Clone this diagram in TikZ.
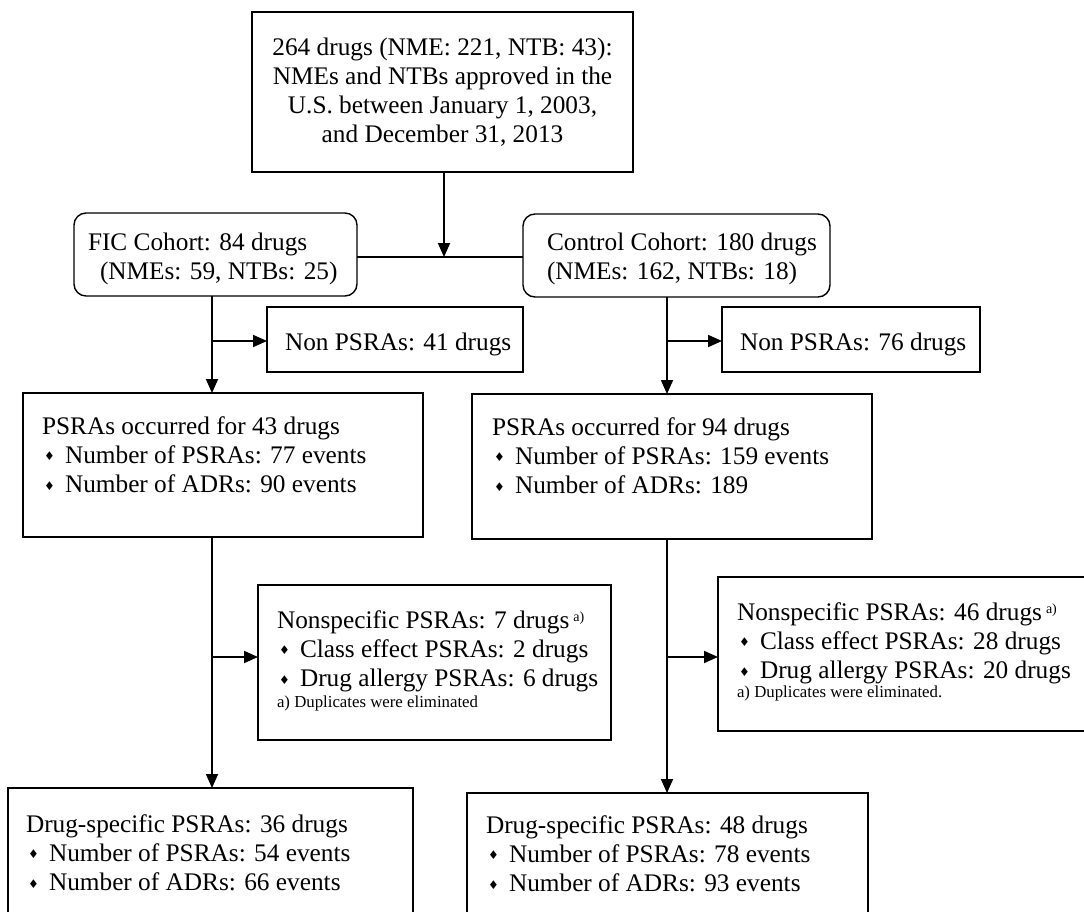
\documentclass[tikz,border=0pt]{standalone}
\usepackage{fontspec}
\setmainfont{Liberation Serif}
\newfontfamily\symfont{DejaVu Sans}
\usetikzlibrary{arrows.meta}
\newcommand\bul{\makebox[23pt][l]{\hspace{2pt}\raisebox{2.5pt}{\fontsize{12}{12}\symfont ♦}}}
\newcommand\supa{\hspace{4pt}\raisebox{7pt}{\fontsize{14}{14}\selectfont a)}}
\begin{document}
\begin{tikzpicture}[x=1pt,y=-1pt,
  box/.style={draw, line width=1.4pt, inner sep=0pt, outer sep=0pt},
  rbox/.style={box, rounded corners=12pt},
  txt/.style={inner sep=0pt, outer sep=0pt, font=\fontsize{25.3}{29.3}\selectfont},
  note/.style={inner sep=0pt, outer sep=0pt, font=\fontsize{16.8}{18}\selectfont},
  conn/.style={line width=1.8pt},
  arr/.style={conn, -{Triangle[length=14pt,width=12pt]}}]
\useasboundingbox (0,0) rectangle (1084,911);
\clip (0,0) rectangle (1084,911);
\fill[white] (0,0) rectangle (1084,911);

% top box
\node[box, minimum width=381pt, minimum height=160pt] (top) at (442.5,92) {};
\node[txt, anchor=base] (toptxt) at (442.5,55) {\begin{tabular}[t]{@{}c@{}}264 drugs (NME: 221, NTB: 43):\\ NMEs and NTBs approved in the\\ U.S. between January 1, 2003,\\ and December 31, 2013\end{tabular}};

% cohorts
\node[rbox, minimum width=283pt, minimum height=83pt] (fic) at (215.5,254.5) {};
\node[txt, anchor=base west] (fictxt) at (88,250) {\begin{tabular}[t]{@{}l@{}}FIC Cohort: 84 drugs\\ \hspace*{12pt}(NMEs: 59, NTBs: 25)\end{tabular}};
\node[rbox, minimum width=307pt, minimum height=83pt] (ctl) at (676.5,255.5) {};
\node[txt, anchor=base west] (ctltxt) at (547,250) {\begin{tabular}[t]{@{}l@{}}Control Cohort: 180 drugs\\ (NMEs: 162, NTBs: 18)\end{tabular}};

\coordinate (j) at (444,257);
\draw[arr] (top.south -| j) -- (j);
\draw[conn] (fic.east |- j) -- (ctl.west |- j);

\coordinate (cl) at (212,341);
\coordinate (cr) at (667,341);
\coordinate (bl) at (212,657);
\coordinate (br) at (667,657);

% non PSRAs
\node[box, minimum width=256pt, minimum height=65pt] (nonl) at (395,339.5) {};
\node[txt, anchor=base west] (nonltxt) at (285,350) {Non PSRAs: 41 drugs};
\node[box, minimum width=258pt, minimum height=65pt] (nonr) at (851,339.5) {};
\node[txt, anchor=base west] (nonrtxt) at (740,350) {Non PSRAs: 76 drugs};

% PSRAs occurred
\node[box, minimum width=400pt, minimum height=144pt] (psl) at (223,465) {};
\node[txt, anchor=base west] (psltxt) at (42,434) {\begin{tabular}[t]{@{}l@{}}PSRAs occurred for 43 drugs\\ \bul Number of PSRAs: 77 events\\ \bul Number of ADRs: 90 events\end{tabular}};
\node[box, minimum width=400pt, minimum height=145pt] (psr) at (672,466.5) {};
\node[txt, anchor=base west] (psrtxt) at (492,435) {\begin{tabular}[t]{@{}l@{}}PSRAs occurred for 94 drugs\\ \bul Number of PSRAs: 159 events\\ \bul Number of ADRs: 189\end{tabular}};

\draw[arr] (fic.south -| cl) -- (psl.north -| cl);
\draw[arr] (cl) -- (nonl.west |- cl);
\draw[arr] (ctl.south -| cr) -- (psr.north -| cr);
\draw[arr] (cr) -- (nonr.west |- cr);

% nonspecific
\node[box, minimum width=353pt, minimum height=155pt] (nsl) at (434.5,662.5) {};
\node[txt, anchor=base west] (nsltxt) at (277,628) {\begin{tabular}[t]{@{}l@{}}Nonspecific PSRAs: 7 drugs\supa\\ \bul Class effect PSRAs: 2 drugs\\ \bul Drug allergy PSRAs: 6 drugs\end{tabular}};
\node[note, anchor=base west] (nslnote) at (277,707) {a) Duplicates were eliminated};
\node[box, minimum width=374pt, minimum height=154pt] (nsr) at (905,654) {};
\node[txt, anchor=base west] (nsrtxt) at (737,620) {\begin{tabular}[t]{@{}l@{}}Nonspecific PSRAs: 46 drugs\supa\\ \bul Class effect PSRAs: 28 drugs\\ \bul Drug allergy PSRAs: 20 drugs\end{tabular}};
\node[note, anchor=base west] (nsrnote) at (737,697) {a) Duplicates were eliminated.};

% drug-specific
\node[box, minimum width=405pt, minimum height=142pt] (dsl) at (210.5,859) {};
\node[txt, anchor=base west] (dsltxt) at (26,832) {\begin{tabular}[t]{@{}l@{}}Drug-specific PSRAs: 36 drugs\\ \bul Number of PSRAs: 54 events\\ \bul Number of ADRs: 66 events\end{tabular}};
\node[box, minimum width=401pt, minimum height=137pt] (dsr) at (667.5,861.5) {};
\node[txt, anchor=base west] (dsrtxt) at (486,833) {\begin{tabular}[t]{@{}l@{}}Drug-specific PSRAs: 48 drugs\\ \bul Number of PSRAs: 78 events\\ \bul Number of ADRs: 93 events\end{tabular}};

\draw[arr] (psl.south -| bl) -- (dsl.north -| bl);
\draw[arr] (bl) -- (nsl.west |- bl);
\draw[arr] (psr.south -| br) -- (dsr.north -| br);
\draw[arr] (br) -- (nsr.west |- br);
\end{tikzpicture}
\end{document}
